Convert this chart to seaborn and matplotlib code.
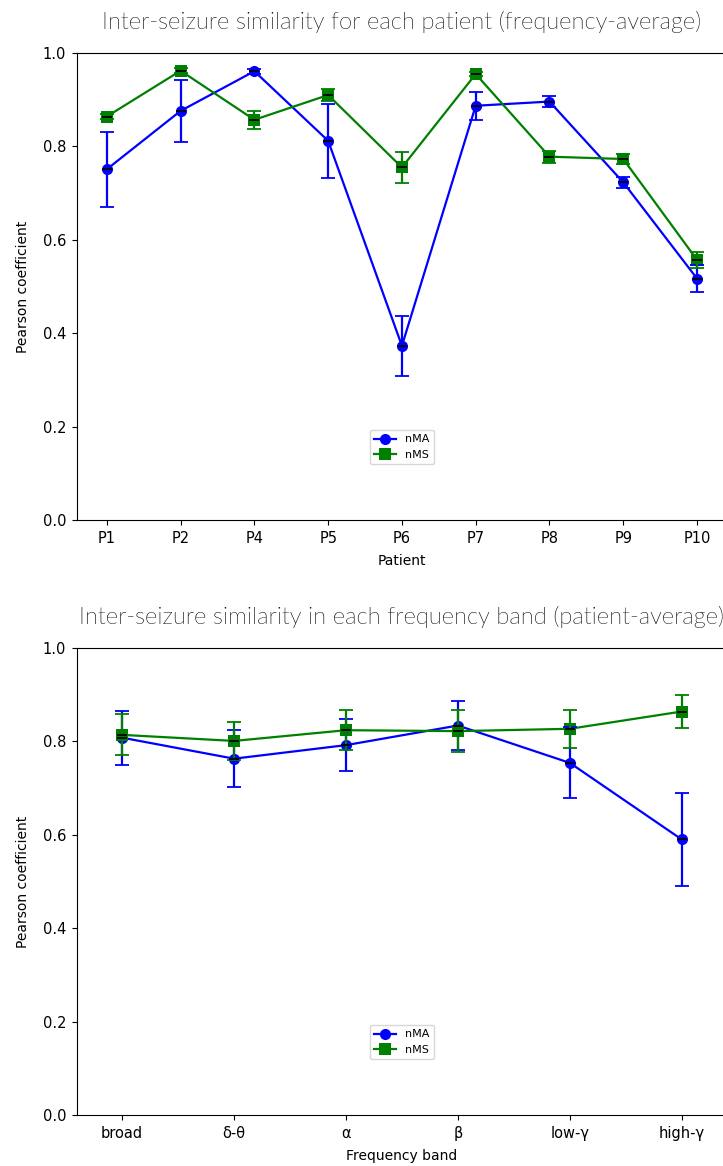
import matplotlib
matplotlib.use("Agg")
import matplotlib.pyplot as plt
from matplotlib import font_manager
import numpy as np
import pandas as pd
import seaborn as sns

# ---------------- data ----------------
patients = ['P1', 'P2', 'P4', 'P5', 'P6', 'P7', 'P8', 'P9', 'P10']
nma_patient = [0.751, 0.876, 0.961, 0.812, 0.373, 0.887, 0.896, 0.723, 0.517]
nma_patient_err = [0.080, 0.066, 0.005, 0.079, 0.064, 0.030, 0.012, 0.012, 0.028]
nms_patient = [0.864, 0.962, 0.857, 0.910, 0.755, 0.955, 0.778, 0.773, 0.557]
nms_patient_err = [0.006, 0.005, 0.019, 0.012, 0.033, 0.005, 0.013, 0.011, 0.017]

bands = ['broad', 'δ-θ', 'α', 'β', 'low-γ', 'high-γ']
nma_band = [0.808, 0.763, 0.792, 0.834, 0.754, 0.590]
nma_band_err = [0.058, 0.061, 0.055, 0.052, 0.076, 0.100]
nms_band = [0.814, 0.801, 0.824, 0.822, 0.827, 0.864]
nms_band_err = [0.044, 0.040, 0.043, 0.045, 0.041, 0.035]

series_names = ['nMA', 'nMS']
series_colors = {'nMA': 'blue', 'nMS': 'green'}
series_markers = {'nMA': 'o', 'nMS': 's'}

# ---------------- title font (light weight if available) ----------------
def pick_light_font():
    prefs = ['Lato', 'Open Sans', 'Roboto', 'Inter', 'Noto Sans', 'DejaVu Sans']
    ents = font_manager.fontManager.ttflist
    for p in prefs:
        for f in ents:
            w = f.weight if isinstance(f.weight, int) else 400
            if f.name == p and w <= 300 and f.style == 'normal':
                return p, w
    return 'DejaVu Sans', 'normal'

title_family, title_weight = pick_light_font()

plt.rcParams['font.family'] = ['DejaVu Sans']

fig = plt.figure(figsize=(7.23, 11.66), dpi=100)
ax1 = fig.add_axes([0.1069, 0.55403, 0.8980, 0.40052])
ax2 = fig.add_axes([0.1069, 0.04374, 0.8980, 0.40051])


def draw(ax, cats, a_vals, a_err, b_vals, b_err, title, xlabel):
    df = pd.DataFrame({
        'cat': list(cats) * 2,
        'value': list(a_vals) + list(b_vals),
        'series': [series_names[0]] * len(cats) + [series_names[1]] * len(cats),
    })
    sns.lineplot(data=df, x='cat', y='value', hue='series', style='series',
                 markers=series_markers, dashes=False, palette=series_colors,
                 linewidth=1.6, markersize=8, markeredgewidth=0, ax=ax,
                 sort=False)
    pos = np.arange(len(cats))
    for name, vals, errs in ((series_names[0], a_vals, a_err),
                             (series_names[1], b_vals, b_err)):
        ax.errorbar(pos, vals, yerr=errs, fmt='_', color='black',
                    ecolor=series_colors[name], elinewidth=1.6, capsize=5,
                    capthick=1.8, markersize=7, mew=1.3)
    ax.set_ylim(0, 1.0)
    ax.set_xlim(-0.4, len(cats) - 1 + 0.4)
    ax.set_xticks(pos)
    ax.set_xticklabels(cats)
    ax.set_xlabel(xlabel, fontsize=10, labelpad=5.5)
    ax.set_ylabel('Pearson coefficient', fontsize=10, labelpad=9)
    ax.tick_params(labelsize=10.5, pad=4.5)
    ax.set_title(title, fontsize=17, family=title_family,
                 fontweight=title_weight, pad=17, color='#000000')
    handles, labels = ax.get_legend_handles_labels()
    ax.legend(handles, labels, loc='lower center',
              bbox_to_anchor=(0.5, 0.107), fontsize=8)


draw(ax1, patients, nma_patient, nma_patient_err, nms_patient, nms_patient_err,
     'Inter-seizure similarity for each patient (frequency-average)', 'Patient')
draw(ax2, bands, nma_band, nma_band_err, nms_band, nms_band_err,
     'Inter-seizure similarity in each frequency band (patient-average)',
     'Frequency band')

fig.savefig('out.png', dpi=100)
